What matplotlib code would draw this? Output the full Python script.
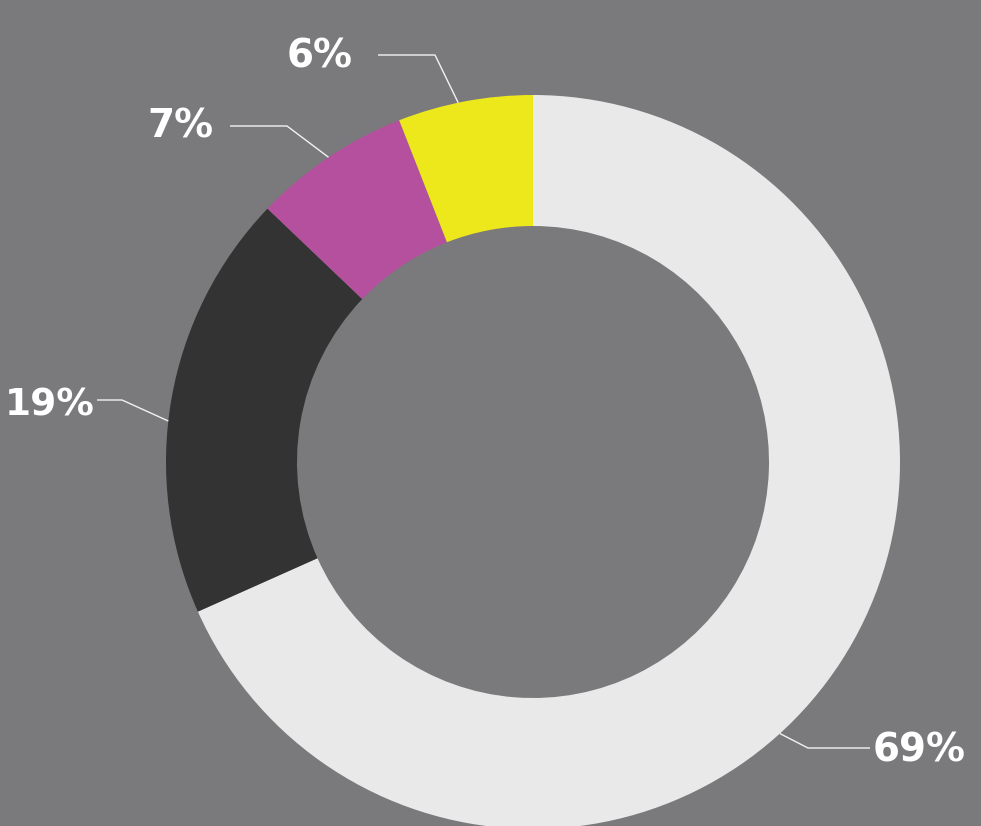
import numpy as np
import matplotlib
matplotlib.use("Agg")
import matplotlib.pyplot as plt

# data
categories = ["A", "B", "C", "D"]
values = [69, 19, 7, 6]
labels = ["69%", "19%", "7%", "6%"]
colors = ["#e8e9e8", "#333333", "#b5509e", "#ede81c"]

W, H = 981, 826
fig = plt.figure(figsize=(W / 100, H / 100), dpi=100)
bg = "#7a7a7d"
fig.patch.set_facecolor(bg)
ax = fig.add_axes([0, 0, 1, 1])
ax.set_facecolor(bg)


def P(x, y):
    # pixel (y-down) -> data (y-up)
    return x, H - y


cx, cy = P(533, 462)
R, width = 367, 131
wedges, _ = ax.pie(values, colors=colors, startangle=90, counterclock=False,
                   radius=R, center=(cx, cy), wedgeprops=dict(width=width, linewidth=0),
                   frame=True)
ax.set_xlim(0, W)
ax.set_ylim(0, H)
ax.set_aspect("equal")
ax.axis("off")

# label layout: (anchor fraction in wedge, elbow xy, line end xy, text xy, ha, size) in pixels
layout = [
    (0.44, (808, 748), (870, 748), (873, 750), "left", 28),
    (0.55, (122, 400), (97, 400), (95, 405), "right", 27),
    (0.50, (287, 126), (230, 126), (214, 127), "right", 28),
    (0.55, (435, 55), (378, 55), (353, 57), "right", 28),
]
for w, lab, (frac, elbow, end, txy, ha, fs) in zip(wedges, labels, layout):
    a = np.deg2rad(w.theta1 + frac * (w.theta2 - w.theta1))
    x0 = cx + R * np.cos(a)
    y0 = cy + R * np.sin(a)
    ex, ey = P(*elbow)
    nx, ny = P(*end)
    ax.plot([x0, ex, nx], [y0, ey, ny],
            color="#f2f2f2", lw=1.0, solid_capstyle="butt", zorder=5)
    tx, ty = P(*txy)
    ax.text(tx, ty, lab, ha=ha, va="center", color="white",
            fontsize=fs, fontweight="bold", family=["DejaVu Sans"], zorder=6)

fig.savefig("out.png", dpi=100, facecolor=bg)
